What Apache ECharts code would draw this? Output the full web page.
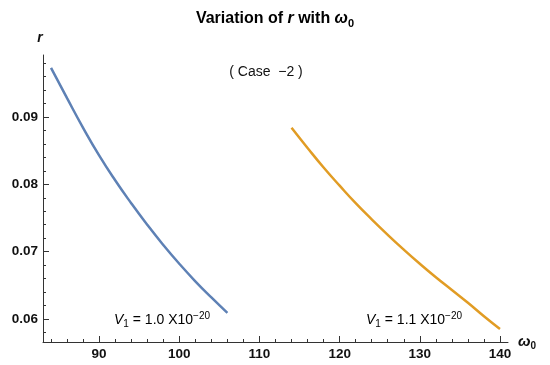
<!DOCTYPE html>
<html>
<head>
<meta charset="utf-8">
<script src="https://cdn.jsdelivr.net/npm/echarts@6/dist/echarts.min.js"></script>
<style>html,body{margin:0;padding:0;background:#fff}#c{width:550px;height:365px}</style>
</head>
<body>
<div id="c"></div>
<script>
// Data
const omegaBlue = [84, 86, 88, 90, 92, 94, 96, 98, 100, 102, 104, 106];
const rBlue = [0.0973, 0.0928, 0.0884, 0.0843, 0.0806, 0.0772, 0.0740, 0.0710, 0.0682, 0.0656, 0.0632, 0.0609];
const omegaOrange = [114, 116, 118, 120, 122, 124, 126, 128, 130, 132, 134, 136, 138, 140];
const rOrange = [0.0884, 0.0854, 0.0825, 0.0798, 0.0772, 0.0748, 0.0725, 0.0703, 0.0682, 0.0662, 0.0643, 0.0624, 0.0604, 0.0585];
const xMajorTicks = [90, 100, 110, 120, 130, 140];
const xMinorTicks = [84, 86, 88, 92, 94, 96, 98, 102, 104, 106, 108, 112, 114, 116, 118, 122, 124, 126, 128, 132, 134, 136, 138];
const yMajorTicks = [0.06, 0.07, 0.08, 0.09];
const yMinorTicks = [0.058, 0.062, 0.064, 0.066, 0.068, 0.072, 0.074, 0.076, 0.078, 0.082, 0.084, 0.086, 0.088, 0.092, 0.094, 0.096, 0.098];

const FONT = '"Liberation Sans", Arial, sans-serif';
const axisCol = '#333';
const blueCol = '#5e81b5';
const orangeCol = '#e19c24';

const chart = echarts.init(document.getElementById('c'), null, {renderer: 'canvas'});

function pairs(xs, ys) { return xs.map((x, i) => [x, ys[i]]); }

const xRange = {min: 83, max: 141};
const yRange = {min: 0.05658, max: 0.09921};

const labelStyle = {fontFamily: FONT, fontWeight: 'bold', fontSize: 13.5, color: '#111'};

const vRich = {
  v: {fontFamily: FONT, fontStyle: 'italic', fontSize: 14, color: '#111', lineHeight: 18, verticalAlign: 'middle'},
  sub: {fontFamily: FONT, fontSize: 10, color: '#111', lineHeight: 18, verticalAlign: 'bottom'},
  t: {fontFamily: FONT, fontSize: 14, color: '#111', lineHeight: 18, verticalAlign: 'middle'},
  sup: {fontFamily: FONT, fontSize: 10, color: '#111', lineHeight: 18, verticalAlign: 'top'}
};

chart.setOption({
  animation: false,
  backgroundColor: '#fff',
  grid: {left: 43, right: 42, top: 55, bottom: 23, containLabel: false},
  xAxis: [
    {
      type: 'value', position: 'bottom', min: xRange.min, max: xRange.max,
      axisLine: {show: true, onZero: false, lineStyle: {color: axisCol, width: 1}},
      axisTick: {show: true, inside: true, length: 6, customValues: xMajorTicks, lineStyle: {color: axisCol}},
      axisLabel: Object.assign({customValues: xMajorTicks, margin: 5}, labelStyle),
      splitLine: {show: false},
      name: '{i|ω}{s|0}', nameLocation: 'end', nameGap: 10,
      nameTextStyle: {
        rich: {
          i: {fontFamily: FONT, fontStyle: 'italic', fontWeight: 'bold', fontSize: 15, color: '#111', lineHeight: 18, verticalAlign: 'middle'},
          s: {fontFamily: FONT, fontWeight: 'bold', fontSize: 10, color: '#111', lineHeight: 18, verticalAlign: 'bottom'}
        }
      }
    },
    {
      type: 'value', position: 'bottom', min: xRange.min, max: xRange.max,
      axisLine: {show: false, onZero: false},
      axisTick: {show: true, inside: true, length: 3, customValues: xMinorTicks, lineStyle: {color: axisCol}},
      axisLabel: {show: false},
      splitLine: {show: false}
    }
  ],
  yAxis: [
    {
      type: 'value', position: 'left', min: yRange.min, max: yRange.max,
      axisLine: {show: true, onZero: false, lineStyle: {color: axisCol, width: 1}},
      axisTick: {show: true, inside: true, length: 6, customValues: yMajorTicks, lineStyle: {color: axisCol}},
      axisLabel: Object.assign({customValues: yMajorTicks, margin: 5, formatter: v => v.toFixed(2)}, labelStyle),
      splitLine: {show: false},
      name: 'r', nameLocation: 'end', nameGap: 10,
      nameTextStyle: {fontFamily: FONT, fontStyle: 'italic', fontWeight: 'bold', fontSize: 14, color: '#111', align: 'center', padding: [0, 6, 0, 0]}
    },
    {
      type: 'value', position: 'left', min: yRange.min, max: yRange.max,
      axisLine: {show: false, onZero: false},
      axisTick: {show: true, inside: true, length: 3, customValues: yMinorTicks, lineStyle: {color: axisCol}},
      axisLabel: {show: false},
      splitLine: {show: false}
    }
  ],
  series: [
    {
      type: 'line', xAxisIndex: 0, yAxisIndex: 0, smooth: true, showSymbol: false,
      data: pairs(omegaBlue, rBlue),
      lineStyle: {color: blueCol, width: 2.5}
    },
    {
      type: 'line', xAxisIndex: 0, yAxisIndex: 0, smooth: true, showSymbol: false,
      data: pairs(omegaOrange, rOrange),
      lineStyle: {color: orangeCol, width: 2.5}
    }
  ],
  graphic: [
    {
      type: 'text', left: 'center', top: 11,
      style: {
        text: '{b|Variation of }{bi|r}{b| with }{bi|ω}{s|0}',
        rich: {
          b: {fontFamily: FONT, fontWeight: 'bold', fontSize: 16, color: '#111', lineHeight: 20, verticalAlign: 'middle'},
          bi: {fontFamily: FONT, fontWeight: 'bold', fontStyle: 'italic', fontSize: 16, color: '#111', lineHeight: 20, verticalAlign: 'middle'},
          s: {fontFamily: FONT, fontWeight: 'bold', fontSize: 11, color: '#111', lineHeight: 19, verticalAlign: 'bottom'}
        }
      }
    },
    {
      type: 'text', x: 266, y: 72,
      style: {text: '( Case  \u22122 )', fontFamily: FONT, fontSize: 14, fill: '#111', align: 'center', verticalAlign: 'middle'}
    },
    {
      type: 'text', x: 114, y: 311,
      style: {text: '{v|V}{sub|1}{t| = 1.0 X10}{sup|\u221220}', rich: vRich}
    },
    {
      type: 'text', x: 366, y: 311,
      style: {text: '{v|V}{sub|1}{t| = 1.1 X10}{sup|\u221220}', rich: vRich}
    }
  ]
});
</script>
</body>
</html>
